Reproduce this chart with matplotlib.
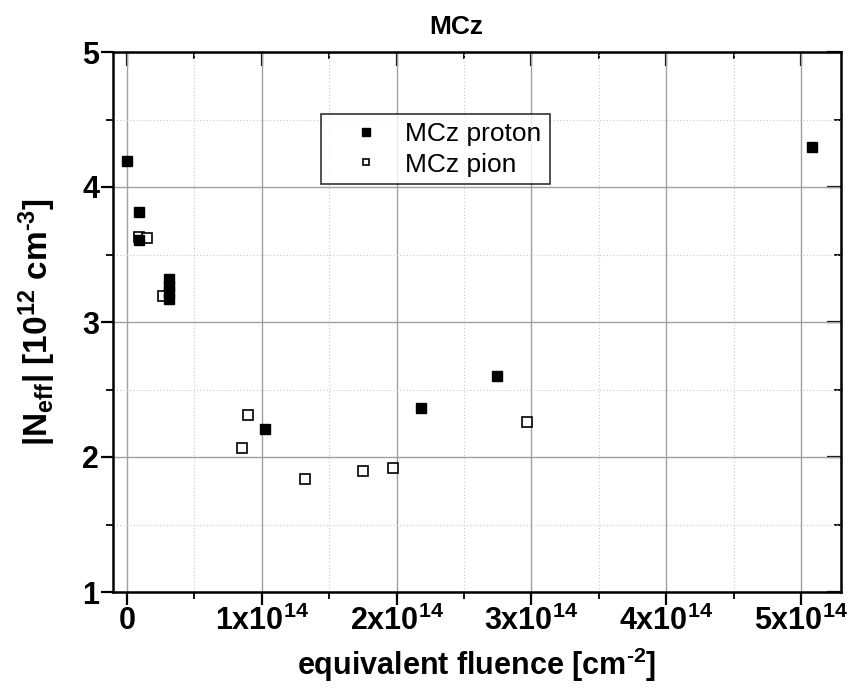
#!/usr/bin/env python3
# MCz: |Neff| vs equivalent fluence, proton and pion irradiation
import matplotlib
matplotlib.use("Agg")
import matplotlib.pyplot as plt
from matplotlib.ticker import MultipleLocator, FixedLocator

plt.rcParams["font.family"] = ["Liberation Sans", "DejaVu Sans"]
plt.rcParams["mathtext.fontset"] = "custom"
plt.rcParams["mathtext.rm"] = "Liberation Sans:bold"
plt.rcParams["mathtext.it"] = "Liberation Sans:bold"
plt.rcParams["mathtext.bf"] = "Liberation Sans:bold"
plt.rcParams["mathtext.default"] = "rm"

# fluence in units of 1e14 cm^-2, |Neff| in 1e12 cm^-3
proton_x = [0.0, 0.09, 0.09, 0.31, 0.31, 0.31, 0.31, 1.02, 2.18, 2.745, 5.08]
proton_y = [4.19, 3.815, 3.61, 3.32, 3.27, 3.22, 3.17, 2.21, 2.36, 2.60, 4.30]
pion_x = [0.09, 0.15, 0.27, 0.85, 0.90, 1.32, 1.75, 1.97, 2.97]
pion_y = [3.63, 3.62, 3.19, 2.07, 2.31, 1.84, 1.90, 1.92, 2.26]

xticks = [0, 1, 2, 3, 4, 5]
xticklabels = ["0", r"1x10$^{14}$", r"2x10$^{14}$", r"3x10$^{14}$",
               r"4x10$^{14}$", r"5x10$^{14}$"]
yticks = [1, 2, 3, 4, 5]

fig = plt.figure(figsize=(8.48, 6.89), dpi=100)
ax = fig.add_axes([113/848, 1-592/689, (841-113)/848, (592-52)/689])

ax.plot(proton_x, proton_y, ls="none", marker="s", ms=7, color="black",
        mec="black", label="MCz proton", zorder=4)
ax.plot(pion_x, pion_y, ls="none", marker="s", ms=6.5, mfc="white",
        mec="black", mew=1.2, label="MCz pion", zorder=3)

ax.set_xlim(-0.104, 5.297)
ax.set_ylim(1, 5)
ax.xaxis.set_major_locator(FixedLocator(xticks))
ax.set_xticklabels(xticklabels)
ax.xaxis.set_minor_locator(MultipleLocator(0.5))
ax.yaxis.set_major_locator(FixedLocator(yticks))
ax.yaxis.set_minor_locator(MultipleLocator(0.5))

ax.grid(True, which="major", color="#a0a0a0", lw=1.0)
ax.grid(True, which="minor", color="#c8c8c8", lw=0.8, ls=(0, (1, 2)))
ax.set_axisbelow(True)

for s in ax.spines.values():
    s.set_linewidth(1.8)
ax.tick_params(which="major", direction="out", length=9, width=1.6,
               labelsize=22, pad=1)
ax.tick_params(which="minor", direction="out", length=5, width=1.3)
for lab in ax.get_xticklabels() + ax.get_yticklabels():
    lab.set_fontweight("bold")

# inward ticks on top and right
top = ax.secondary_xaxis("top")
top.xaxis.set_major_locator(FixedLocator(xticks))
top.xaxis.set_minor_locator(MultipleLocator(0.5))
top.tick_params(which="major", direction="in", length=10, width=1.6, labeltop=False)
top.tick_params(which="minor", direction="in", length=5, width=1.3)
right = ax.secondary_yaxis("right")
right.yaxis.set_major_locator(FixedLocator(yticks))
right.yaxis.set_minor_locator(MultipleLocator(0.5))
right.tick_params(which="major", direction="in", length=10, width=1.6, labelright=False)
right.tick_params(which="minor", direction="in", length=5, width=1.3)

ax.set_xlabel(r"equivalent fluence [cm$^{\text{-2}}$]", fontsize=22,
              fontweight="bold", labelpad=6)
ax.set_ylabel(r"|N$_{\text{eff}}$| [10$^{12}$ cm$^{\text{-3}}$]", fontsize=24,
              fontweight="bold")
ax.yaxis.set_label_coords((58-113)/728, 0.5)

fig.text(456/848, 1-27/689, "MCz", fontsize=19, fontweight="bold",
         ha="center", va="center")

leg = ax.legend(loc="upper left", bbox_to_anchor=((321-113)/728, (592-114)/540),
                borderaxespad=0, fontsize=19, frameon=True, fancybox=False,
                edgecolor="black", borderpad=0.3, labelspacing=0.25,
                handletextpad=0.1, markerscale=0.75, handlelength=2.8)
leg.get_frame().set_linewidth(1.2)

fig.savefig("out.png", dpi=100)
